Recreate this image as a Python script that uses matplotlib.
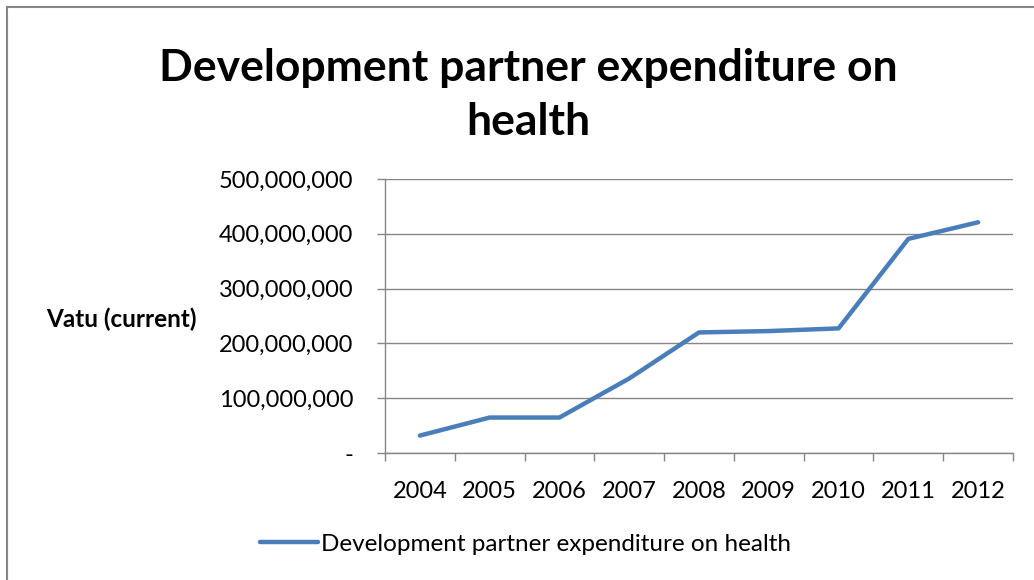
import matplotlib
matplotlib.use("Agg")
import matplotlib.pyplot as plt
from matplotlib.lines import Line2D

years = ["2004", "2005", "2006", "2007", "2008", "2009", "2010", "2011", "2012"]
spend = [31.8e6, 64.7e6, 64.7e6, 136e6, 220e6, 222.5e6, 227.4e6, 390.7e6, 421e6]
yticks = [0, 100e6, 200e6, 300e6, 400e6, 500e6]
ytick_labels = ["-", "100,000,000", "200,000,000", "300,000,000", "400,000,000", "500,000,000"]
series_name = "Development partner expenditure on health"
title = "Development partner expenditure on\nhealth"

plt.rcParams['font.family'] = ['Lato', 'DejaVu Sans']
grey = "#868686"
blue = "#4a7ebb"

W, H = 1034, 580
fig = plt.figure(figsize=(W / 100, H / 100), dpi=100)
ax = fig.add_axes([385 / W, 1 - 453 / H, 628 / W, 274 / H])

x = list(range(len(years)))
line, = ax.plot(x, spend, color=blue, lw=3.2, solid_capstyle='round', solid_joinstyle='round')

ax.set_xlim(-0.5, len(years) - 0.5)
ax.set_ylim(0, 500e6)
ax.set_yticks(yticks)
ax.set_yticklabels(ytick_labels)
ax.set_xticks(x)
ax.set_xticklabels(years)
ax.set_xticks([i - 0.5 for i in range(len(years) + 1)], minor=True)

ax.tick_params(axis='x', which='major', length=0, pad=20, labelsize=17)
ax.tick_params(axis='x', which='minor', length=6, width=1, color=grey, direction='out')
ax.tick_params(axis='y', length=6, width=1, color=grey, direction='out', pad=17, labelsize=17)

ax.grid(axis='y', color=grey, lw=1)
ax.set_axisbelow(True)
for s in ['top', 'right']:
    ax.spines[s].set_visible(False)
for s in ['left', 'bottom']:
    ax.spines[s].set_color(grey)
    ax.spines[s].set_linewidth(1)

fig.text(46 / W, 1 - 319 / H, "Vatu (current)", fontsize=17.5, fontweight='bold', va='center', ha='left')
fig.text(528 / W, 1 - 95 / H, title, fontsize=32, fontweight='bold', ha='center', va='center',
         linespacing=1.45)

fig.legend([line], [series_name], loc='center left', bbox_to_anchor=(238 / W, 1 - 544 / H),
           frameon=False, fontsize=17.5, handlelength=2.4, handletextpad=0.1)

# chart frame (only top and left edges fall inside the image)
fig.add_artist(Line2D([7 / W, 1], [1 - 7 / H, 1 - 7 / H], color=grey, lw=1.5, transform=fig.transFigure))
fig.add_artist(Line2D([7 / W, 7 / W], [0, 1 - 7 / H], color=grey, lw=1.5, transform=fig.transFigure))

fig.savefig("out.png", dpi=100)
